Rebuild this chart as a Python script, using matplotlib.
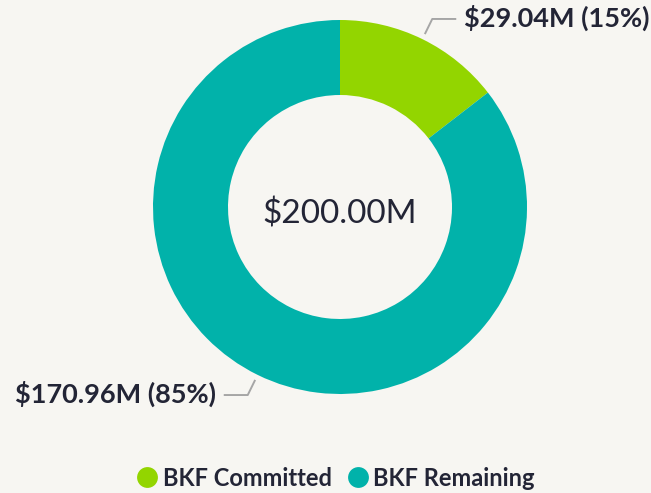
import numpy as np
import matplotlib
matplotlib.use('Agg')
import matplotlib.pyplot as plt
from matplotlib.lines import Line2D

categories = ['BKF Committed', 'BKF Remaining']
values = [29.04, 170.96]  # $M
colors = ['#93D500', '#01B2AA']

bg = '#F7F6F2'
text_col = '#232536'
line_col = '#A6A6A6'

plt.rcParams['font.family'] = ['Lato', 'DejaVu Sans']

fig = plt.figure(figsize=(6.51, 4.93), dpi=100, facecolor=bg)
ax = fig.add_axes([0, 0, 1, 1])
ax.set_facecolor(bg)

# donut geometry in pixel units
cx, cy = 340, 493 - 207
R = 187
ring = 75

wedges, _ = ax.pie(values, colors=colors, startangle=90, counterclock=False,
                   radius=R, center=(cx, cy),
                   wedgeprops=dict(width=ring, linewidth=0))
ax.set_xlim(0, 651)
ax.set_ylim(0, 493)
ax.set_aspect('equal')
ax.axis('off')

total = sum(values)
ax.text(cx, cy - 7, f"${total:.2f}M", ha='center', va='center',
        fontsize=24, color=text_col)

# leader lines + data labels
for w, v in zip(wedges, values):
    mid = np.deg2rad((w.theta1 + w.theta2) / 2)
    x1, y1 = cx + 1.03 * R * np.cos(mid), cy + 1.03 * R * np.sin(mid)
    x2, y2 = cx + 1.12 * R * np.cos(mid), cy + 1.12 * R * np.sin(mid)
    side = 1 if np.cos(mid) >= 0 else -1
    x3 = x2 + side * 24
    ax.plot([x1, x2, x3], [y1, y2, y2], color=line_col, lw=1.4,
            solid_capstyle='butt')
    lbl = f"${v:.2f}M ({v / total:.0%})"
    ax.text(x3 + side * 8, y2 + 1, lbl, ha='left' if side > 0 else 'right',
            va='center', fontsize=19.5, fontweight='bold', color=text_col)

handles = [Line2D([], [], marker='o', linestyle='none', markersize=15,
                  markerfacecolor=c, markeredgewidth=0) for c in colors]
fig.legend(handles, categories, loc='center', ncol=2, frameon=False,
           bbox_to_anchor=(335 / 651, 1 - 478 / 493),
           prop=dict(size=17, weight='bold'), labelcolor=text_col,
           handletextpad=0.15, columnspacing=0.6, handlelength=1.0)

fig.savefig('out.png', dpi=100, facecolor=bg)
